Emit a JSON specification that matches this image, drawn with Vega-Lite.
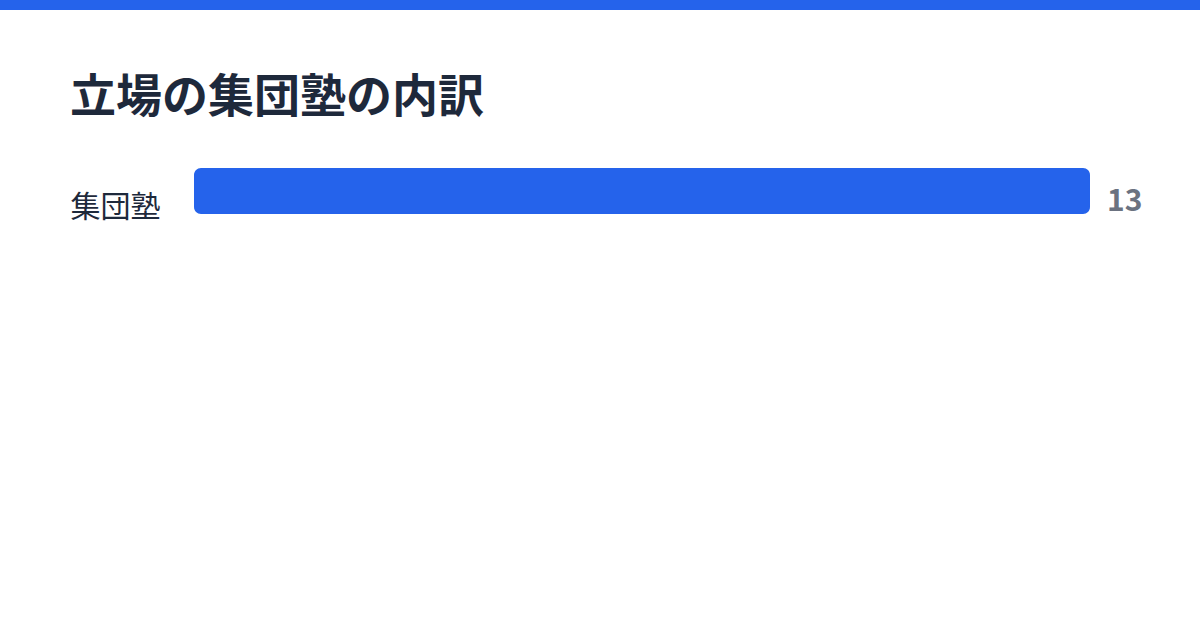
{
  "$schema": "https://vega.github.io/schema/vega-lite/v6.json",
  "padding": 0,
  "background": "white",
  "columns": 1,
  "bounds": "flush",
  "spacing": 158,
  "config": {
    "font": "Noto Sans CJK JP",
    "view": {"stroke": null}
  },
  "concat": [
    {
      "width": 1200,
      "height": 10,
      "data": {"values": [{"band": "top"}]},
      "view": {"fill": "#2563eb", "stroke": null},
      "mark": {"type": "rect", "color": "#2563eb"},
      "encoding": {}
    },
    {
      "width": 1200,
      "height": 46,
      "data": {"values": [{"category": "集団塾", "count": 13}]},
      "title": {
        "text": "立場の集団塾の内訳",
        "anchor": "start",
        "frame": "group",
        "dx": 70,
        "fontSize": 46,
        "fontWeight": "bold",
        "color": "#1e293b",
        "offset": 46
      },
      "encoding": {
        "y": {
          "field": "category",
          "type": "nominal",
          "scale": {"paddingInner": 0, "paddingOuter": 0},
          "axis": {
            "title": null,
            "domain": false,
            "ticks": false,
            "labelAlign": "left",
            "labelPadding": -70,
            "labelFontSize": 30,
            "labelColor": "#1e293b",
            "labelOffset": 17
          }
        },
        "x": {
          "field": "count",
          "type": "quantitative",
          "scale": {"domain": [0, 13], "range": [194, 1090]},
          "axis": null
        }
      },
      "layer": [
        {
          "mark": {"type": "bar", "color": "#2563eb", "cornerRadius": 7}
        },
        {
          "mark": {
            "type": "text",
            "align": "left",
            "baseline": "middle",
            "dx": 17,
            "dy": 11,
            "fontSize": 30,
            "fontWeight": "bold",
            "color": "#6b7280"
          },
          "encoding": {"text": {"field": "count", "type": "quantitative"}}
        }
      ]
    }
  ]
}
